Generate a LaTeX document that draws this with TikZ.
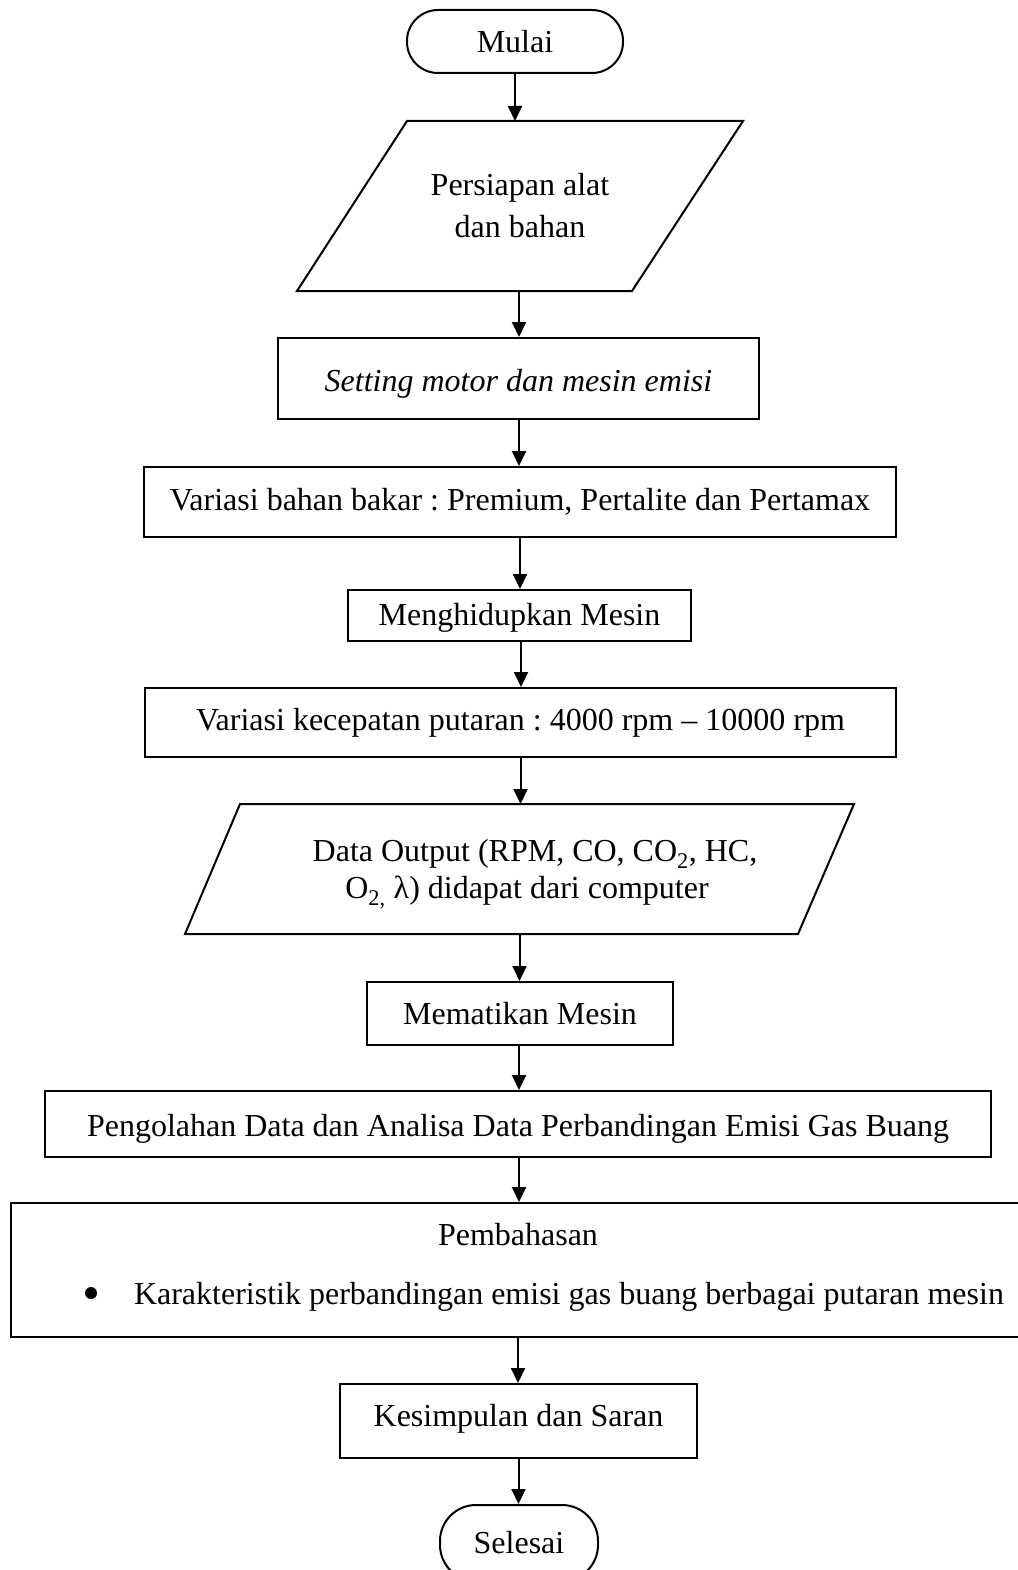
\documentclass[tikz,border=0pt]{standalone}
\usepackage{fontspec}
\setmainfont{Liberation Serif}
\usetikzlibrary{arrows.meta,calc}
\frenchspacing
\begin{document}
\begin{tikzpicture}[x=1pt,y=-1pt,
  every node/.style={font=\fontsize{32}{42}\selectfont, inner sep=0pt, line width=2pt},
  every label/.style={font=\fontsize{32}{37}\selectfont, inner sep=0pt, align=center},
  box/.style={draw, rectangle},
  term/.style={draw, rectangle, rounded corners=31pt},
  ghost/.style={rectangle, align=center},
  shapeline/.style={line width=2pt, line join=miter},
  arr/.style={line width=2pt, -{Triangle[length=15pt,width=14pt]}}
]
\useasboundingbox (0,0) rectangle (1017,1570);

\node[term, minimum width=216pt, minimum height=63pt] (start) at (515,41.5) {Mulai};

\node[ghost, minimum width=444pt, minimum height=168pt] (p1) at (520,206) {Persiapan alat\\dan bahan};
\draw[shapeline] ($(p1.north west)+(110,0)$) -- (p1.north east) -- ($(p1.south east)+(-111,0)$) -- (p1.south west) -- cycle;

\node[box, minimum width=481pt, minimum height=81pt,
  label={[yshift=-5pt]center:{\itshape Setting motor dan mesin emisi}}] (s1) at (518.5,378.5) {};

\node[box, minimum width=752pt, minimum height=70pt] (vb) at (520,502) {Variasi bahan bakar : Premium, Pertalite dan Pertamax};

\node[box, minimum width=343pt, minimum height=51pt,
  label={[yshift=-2pt]center:{Menghidupkan Mesin}}] (hid) at (519.5,615.5) {};

\node[box, minimum width=751pt, minimum height=69pt] (vk) at (520.5,722.5) {Variasi kecepatan putaran : 4000 rpm -- 10000 rpm};

\node[ghost, minimum width=667pt, minimum height=128pt,
  label={[yshift=-5pt]center:{\hspace*{31pt}Data Output (RPM, CO, CO\textsubscript{2}, HC,\\\hspace*{15pt}O\textsubscript{2,} λ) didapat dari computer}}] (p2) at (519.5,869) {};
\draw[shapeline] ($(p2.north west)+(55,0)$) -- (p2.north east) -- ($(p2.south east)+(-56,0)$) -- (p2.south west) -- cycle;

\node[box, minimum width=306pt, minimum height=63pt] (mat) at (520,1013.5) {Mematikan Mesin};

\node[box, minimum width=946pt, minimum height=66pt,
  label={[yshift=-5pt]center:{Pengolahan Data dan Analisa Data Perbandingan Emisi Gas Buang}}] (olah) at (518,1124) {};

\node[box, minimum width=1012pt, minimum height=134pt] (bahas) at (517,1270) {};
\node (bahast) at (518,1235) {Pembahasan};
\node[circle, fill, minimum size=12pt] (bul) at (91,1293) {};
\node[anchor=west] (bahasl) at (133,1297) {Karakteristik perbandingan emisi gas buang berbagai putaran mesin};

\node[box, minimum width=357pt, minimum height=74pt,
  label={[yshift=2pt]center:{Kesimpulan dan Saran}}] (simp) at (518.5,1421) {};

\node[term, minimum width=158pt, minimum height=76pt, rounded corners=36pt] (end) at (519,1543) {Selesai};

\draw[arr] (start.south) -- (start.south |- p1.north);
\draw[arr] ([xshift=-1pt]p1.south) -- ([xshift=-1pt]p1.south |- s1.north);
\draw[arr] ([xshift=0.5pt]s1.south) -- ([xshift=0.5pt]s1.south |- vb.north);
\draw[arr] (vb.south) -- (vb.south |- hid.north);
\draw[arr] ([xshift=1.5pt]hid.south) -- ([xshift=1.5pt]hid.south |- vk.north);
\draw[arr] (vk.south) -- (vk.south |- p2.north);
\draw[arr] (p2.south) -- (p2.south |- mat.north);
\draw[arr] ([xshift=-1pt]mat.south) -- ([xshift=-1pt]mat.south |- olah.north);
\draw[arr] ([xshift=1pt]olah.south) -- ([xshift=1pt]olah.south |- bahas.north);
\draw[arr] ([xshift=1pt]bahas.south) -- ([xshift=1pt]bahas.south |- simp.north);
\draw[arr] (simp.south) -- (simp.south |- end.north);
\end{tikzpicture}
\end{document}
